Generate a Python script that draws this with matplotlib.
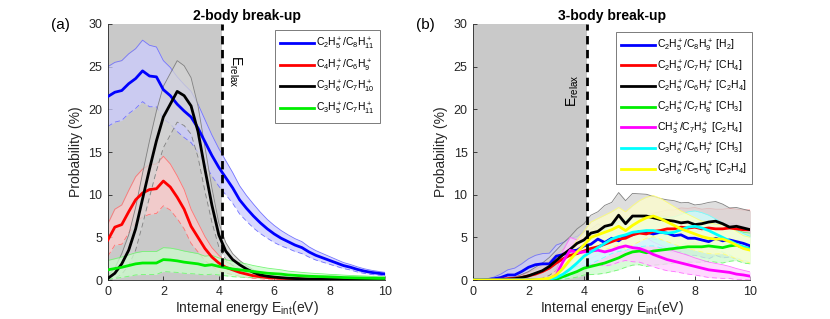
import numpy as np
import matplotlib
matplotlib.use("Agg")
import matplotlib.pyplot as plt
from matplotlib.colors import to_rgb

plt.rcParams['font.family'] = ['Liberation Sans', 'DejaVu Sans']
plt.rcParams['mathtext.fontset'] = 'custom'
plt.rcParams['mathtext.rm'] = 'Liberation Sans'
plt.rcParams['mathtext.it'] = 'Liberation Sans:italic'
plt.rcParams['mathtext.bf'] = 'Liberation Sans:bold'

# energy grid (eV)
energy = np.arange(0, 10.01, 0.25)
e_relax = 4.1

# ---- 2-body break-up ----
two_labels = [r'C$_2$H$_5^+$/C$_8$H$_{11}^+$', r'C$_4$H$_7^+$/C$_6$H$_9^+$',
              r'C$_3$H$_6^+$/C$_7$H$_{10}^+$', r'C$_3$H$_5^+$/C$_7$H$_{11}^+$']
two_colors = ['#0000ff', '#ff0000', '#000000', '#00ee00']

blue2 = [21.5, 22.0, 22.2, 23.0, 23.6, 24.5, 23.9, 23.8, 22.3, 21.6, 20.6, 19.8, 19.1, 17.8,
         16.2, 14.6, 13.2, 12.0, 10.8, 9.4, 8.4, 7.5, 6.7, 6.0, 5.4, 4.9, 4.5, 4.1, 3.8, 3.3,
         2.9, 2.6, 2.3, 2.0, 1.7, 1.5, 1.25, 1.05, 0.9, 0.8, 0.7]
red2 = [4.7, 6.2, 6.5, 8.0, 9.4, 10.2, 10.6, 10.7, 11.6, 10.9, 9.7, 8.3, 6.3, 5.0, 3.7, 2.7,
        2.0, 1.5, 1.2, 0.9, 0.7, 0.5, 0.4, 0.3, 0.25, 0.2, 0.18, 0.15, 0.12, 0.1, 0.1, 0.09,
        0.08, 0.07, 0.07, 0.06, 0.06, 0.05, 0.05, 0.05, 0.05]
black2 = [0.2, 0.8, 1.9, 3.5, 6.0, 9.5, 13.0, 16.3, 19.1, 20.6, 22.1, 21.6, 20.4, 17.4, 13.0,
          8.8, 5.3, 3.4, 2.4, 1.8, 1.3, 0.9, 0.6, 0.45, 0.35, 0.28, 0.22, 0.18, 0.15, 0.12,
          0.1, 0.1, 0.08, 0.07, 0.06, 0.05, 0.05, 0.04, 0.04, 0.03, 0.03]
green2 = [1.2, 1.35, 1.5, 1.7, 1.9, 2.0, 2.0, 2.0, 2.4, 2.35, 2.25, 2.1, 2.0, 1.9, 1.7, 1.8,
          1.6, 1.45, 1.3, 1.2, 1.1, 1.0, 0.9, 0.8, 0.75, 0.7, 0.6, 0.55, 0.5, 0.45, 0.42, 0.4,
          0.37, 0.34, 0.3, 0.28, 0.26, 0.24, 0.22, 0.2, 0.2]

blue2_err = [3.5, 3.5, 3.5, 3.5, 3.5, 3.6, 3.6, 3.5, 3.4, 3.3, 3.2, 3.1, 3.0, 2.8, 2.6, 2.4,
             2.2, 2.0, 1.8, 1.65, 1.5, 1.4, 1.25, 1.1, 1.0, 0.9, 0.8, 0.75, 0.7, 0.6, 0.55,
             0.5, 0.45, 0.4, 0.35, 0.32, 0.3, 0.27, 0.25, 0.22, 0.2]
red2_err = [1.9, 2.1, 2.3, 2.5, 2.7, 2.8, 2.9, 2.9, 2.9, 2.7, 2.5, 2.3, 2.0, 1.7, 1.4, 1.1,
            0.9, 0.7, 0.55, 0.45, 0.4, 0.3, 0.25, 0.2, 0.15, 0.12, 0.1, 0.1, 0.1, 0.08, 0.08,
            0.07, 0.06, 0.06, 0.05, 0.05, 0.05, 0.04, 0.04, 0.04, 0.04]
black2_err = [0.3, 0.6, 1.2, 1.8, 2.5, 3.0, 3.3, 3.5, 3.6, 3.6, 3.6, 3.5, 3.3, 3.0, 2.6,
              2.0, 1.4, 1.0, 0.7, 0.5, 0.4, 0.3, 0.2, 0.15, 0.12, 0.1, 0.1, 0.08, 0.07, 0.06,
              0.05, 0.05, 0.04, 0.04, 0.03, 0.03, 0.03, 0.02, 0.02, 0.02, 0.02]
green2_err = [1.1, 1.15, 1.2, 1.25, 1.3, 1.35, 1.35, 1.35, 1.4, 1.4, 1.35, 1.3, 1.25, 1.2,
              1.1, 1.1, 1.0, 0.95, 0.9, 0.85, 0.8, 0.7, 0.65, 0.6, 0.55, 0.5, 0.45, 0.42,
              0.4, 0.38, 0.35, 0.33, 0.3, 0.3, 0.28, 0.26, 0.25, 0.24, 0.22, 0.2, 0.2]

# ---- 3-body break-up ----
three_labels = [r'C$_2$H$_5^+$/C$_8$H$_9^+$ [H$_2$]', r'C$_2$H$_5^+$/C$_7$H$_7^+$ [CH$_4$]',
                r'C$_2$H$_5^+$/C$_6$H$_7^+$ [C$_2$H$_4$]', r'C$_2$H$_5^+$/C$_7$H$_8^+$ [CH$_3$]',
                r'CH$_3^+$/C$_7$H$_9^+$ [C$_2$H$_4$]', r'C$_3$H$_6^+$/C$_6$H$_7^+$ [CH$_3$]',
                r'C$_3$H$_6^+$/C$_5$H$_6^+$ [C$_2$H$_4$]']
three_colors = ['#0000ff', '#ff0000', '#000000', '#00ee00', '#ff00ff', '#00ffff', '#ffff00']

blue3 = [0, 0, 0.05, 0.15, 0.3, 0.6, 0.6, 1.0, 1.5, 1.8, 1.9, 1.9, 2.8, 3.0, 3.4, 3.5, 4.0,
         4.2, 4.8, 4.4, 4.9, 4.6, 5.2, 5.3, 5.7, 5.6, 5.4, 5.6, 5.5, 5.2, 5.3, 4.9, 4.9, 4.7,
         4.5, 4.9, 4.6, 4.7, 4.5, 4.3, 4.0]
red3 = [0, 0, 0, 0.05, 0.1, 0.15, 0.2, 0.3, 0.5, 0.7, 1.0, 1.4, 2.0, 2.5, 2.9, 3.1, 3.4,
        3.7, 3.9, 4.2, 4.5, 4.8, 4.9, 5.3, 5.5, 5.4, 5.7, 5.8, 6.0, 6.0, 6.2, 6.1, 6.2, 6.0,
        6.1, 6.0, 6.0, 6.1, 6.0, 5.9, 5.9]
black3 = [0, 0, 0, 0, 0.05, 0.1, 0.15, 0.3, 0.5, 0.8, 1.1, 1.6, 2.3, 3.0, 3.6, 4.3, 4.7,
          5.5, 5.7, 6.3, 6.5, 7.6, 6.6, 7.5, 7.5, 7.5, 7.3, 7.1, 7.0, 6.9, 6.7, 6.8, 6.5, 6.6,
          6.8, 6.9, 6.6, 6.2, 6.3, 6.1, 5.9]
green3 = [0, 0, 0, 0, 0, 0, 0, 0, 0, 0, 0, 0.05, 0.1, 0.4, 0.7, 1.0, 1.4, 1.6, 1.8, 2.0,
          2.3, 2.6, 3.0, 3.3, 3.4, 3.2, 3.4, 3.5, 3.6, 3.7, 3.8, 3.9, 3.9, 3.9, 4.0, 3.9,
          3.8, 4.0, 4.1, 3.8, 3.7]
magenta3 = [0, 0, 0, 0, 0, 0, 0, 0, 0, 0, 0, 0.1, 0.6, 2.2, 3.5, 3.2, 3.3, 3.4, 3.5, 3.3,
            3.5, 3.8, 4.0, 3.8, 3.7, 3.4, 3.0, 2.7, 2.4, 2.2, 2.0, 1.8, 1.6, 1.4, 1.2, 1.1,
            1.0, 0.9, 0.7, 0.6, 0.45]
cyan3 = [0, 0, 0, 0, 0, 0, 0, 0, 0, 0, 0, 0.1, 0.3, 0.7, 1.3, 2.0, 2.8, 3.3, 3.8, 4.3, 4.8,
         5.1, 5.3, 5.6, 5.7, 5.8, 5.8, 5.6, 5.5, 5.6, 5.9, 6.2, 6.3, 6.1, 5.8, 5.4, 5.0,
         4.6, 4.2, 3.9, 3.6]
yellow3 = [0, 0, 0, 0, 0, 0, 0, 0, 0, 0.05, 0.1, 0.2, 0.6, 1.4, 2.4, 3.3, 4.1, 5.0, 5.3,
           5.6, 5.9, 6.3, 5.8, 6.4, 6.9, 7.3, 7.5, 7.2, 6.8, 6.4, 6.0, 5.7, 5.4, 5.1, 4.9,
           4.8, 4.8, 4.5, 4.1, 3.7, 3.5]

blue3_err = [0, 0, 0.1, 0.2, 0.4, 0.6, 0.8, 0.9, 1.0, 1.1, 1.2, 1.25, 1.3, 1.4, 1.5, 1.6,
             1.7, 1.75, 1.8, 1.8, 1.8, 1.9, 1.9, 2.0, 2.0, 2.0, 2.0, 2.0, 2.0, 2.0, 2.0, 2.0,
             2.0, 2.0, 2.0, 2.0, 2.0, 2.0, 2.0, 2.0, 2.0]
red3_err = [0, 0, 0, 0.05, 0.05, 0.1, 0.15, 0.25, 0.4, 0.55, 0.7, 0.85, 1.0, 1.1, 1.2, 1.3,
            1.4, 1.5, 1.6, 1.7, 1.8, 1.9, 2.0, 2.05, 2.1, 2.1, 2.15, 2.2, 2.2, 2.2, 2.25,
            2.3, 2.3, 2.3, 2.3, 2.3, 2.3, 2.3, 2.3, 2.3, 2.3]
black3_err = [0, 0, 0, 0, 0.05, 0.1, 0.2, 0.35, 0.5, 0.7, 0.9, 1.05, 1.2, 1.35, 1.5, 1.7,
              1.9, 2.1, 2.3, 2.45, 2.6, 2.65, 2.7, 2.65, 2.6, 2.55, 2.5, 2.45, 2.4, 2.4,
              2.35, 2.3, 2.3, 2.3, 2.3, 2.3, 2.3, 2.25, 2.2, 2.2, 2.2]
green3_err = [0, 0, 0, 0, 0, 0, 0, 0, 0, 0, 0, 0.05, 0.1, 0.3, 0.5, 0.65, 0.8, 0.95, 1.1,
              1.2, 1.3, 1.4, 1.5, 1.55, 1.6, 1.6, 1.65, 1.7, 1.7, 1.7, 1.75, 1.8, 1.8, 1.8,
              1.8, 1.8, 1.8, 1.8, 1.8, 1.8, 1.8]
magenta3_err = [0, 0, 0, 0, 0, 0, 0, 0, 0, 0, 0, 0.1, 0.5, 1.3, 1.5, 1.5, 1.6, 1.6, 1.65,
                1.65, 1.7, 1.7, 1.7, 1.65, 1.6, 1.55, 1.45, 1.4, 1.3, 1.2, 1.15, 1.1, 1.0,
                0.95, 0.9, 0.85, 0.8, 0.7, 0.65, 0.55, 0.5]
cyan3_err = [0, 0, 0, 0, 0, 0, 0, 0, 0, 0, 0, 0.1, 0.25, 0.5, 0.8, 1.0, 1.3, 1.4, 1.5, 1.6,
             1.7, 1.75, 1.8, 1.8, 1.8, 1.8, 1.8, 1.8, 1.8, 1.8, 1.8, 1.8, 1.8, 1.8, 1.8,
             1.75, 1.7, 1.65, 1.6, 1.55, 1.5]
yellow3_err = [0, 0, 0, 0, 0, 0, 0, 0, 0, 0.05, 0.1, 0.15, 0.4, 0.8, 1.1, 1.4, 1.6, 1.8,
               1.9, 2.0, 2.1, 2.2, 2.2, 2.3, 2.4, 2.4, 2.4, 2.4, 2.3, 2.2, 2.1, 2.0, 1.9,
               1.8, 1.8, 1.75, 1.7, 1.7, 1.6, 1.5, 1.5]

two_series = [(blue2, blue2_err), (red2, red2_err), (black2, black2_err), (green2, green2_err)]
three_series = [(blue3, blue3_err), (red3, red3_err), (black3, black3_err), (green3, green3_err),
                (magenta3, magenta3_err), (cyan3, cyan3_err), (yellow3, yellow3_err)]


def light(color, f=0.8):
    r, g, b = to_rgb(color)
    return (r + (1 - r) * f, g + (1 - g) * f, b + (1 - b) * f)


def band(ax, y, err, color):
    y = np.array(y)
    err = np.array(err)
    lo = np.clip(y - err, 0, None)
    hi = y + err
    if color == '#000000':
        fc, ec = '#d4d4d4', '#808080'
    else:
        fc, ec = light(color, 0.8), light(color, 0.45)
    ax.fill_between(energy, lo, hi, color=fc, alpha=0.75, lw=0, zorder=2)
    ax.plot(energy, hi, color=ec, lw=0.6, zorder=2)
    ax.plot(energy, lo, color=ec, lw=0.6, ls='--', dashes=(6, 4), zorder=2)


def style_axes(ax):
    ax.set_xlim(0, 10)
    ax.set_ylim(0, 30)
    ax.set_xticks([0, 2, 4, 6, 8, 10])
    ax.set_yticks([0, 5, 10, 15, 20, 25, 30])
    ax.axvspan(0, e_relax, color='#c9c9c9', lw=0, zorder=0)
    ax.axvline(e_relax, color='black', lw=2, ls='--', dashes=(3, 2), zorder=5)
    for s in ['top', 'right']:
        ax.spines[s].set_visible(False)
    for s in ['left', 'bottom']:
        ax.spines[s].set_color('#262626')
        ax.spines[s].set_linewidth(0.6)
    ax.tick_params(direction='in', length=3, width=0.6, colors='#262626', labelsize=9,
                   pad=4)
    ax.set_ylabel('Probability (%)', fontsize=10, color='#262626', labelpad=4)
    ax.set_xlabel(r'Internal energy E$_{\rm int}$(eV)', fontsize=10, color='#262626',
                  labelpad=1)


fig = plt.figure(figsize=(8.3, 3.19), dpi=100)
ax1 = fig.add_axes([0.130, 0.122, 0.334, 0.803])
ax2 = fig.add_axes([0.570, 0.122, 0.334, 0.803])

legend_corner = {ax1: (0.982, 0.975), ax2: (1.007, 0.969)}
legend_spacing = {ax1: 0.5, ax2: 0.42}

for ax, series, labels, colors in [(ax1, two_series, two_labels, two_colors),
                                   (ax2, three_series, three_labels, three_colors)]:
    style_axes(ax)
    for (y, err), c in zip(series, colors):
        band(ax, y, err, c)
    handles = []
    for (y, err), c, lab in zip(series, colors, labels):
        h, = ax.plot(energy, y, color=c, lw=2, label=lab, zorder=4)
        handles.append(h)
    leg = ax.legend(handles=handles, loc='upper right', bbox_to_anchor=legend_corner[ax],
                    fontsize=7.5, handlelength=3.2, handletextpad=0.2,
                    labelspacing=legend_spacing[ax], borderpad=0.55, fancybox=False,
                    framealpha=1, edgecolor='#666666', borderaxespad=0)
    leg.get_frame().set_linewidth(0.6)
    leg.set_zorder(10)

ax1.text(4.3, 26.4, r'E$_{\rm relax}$', rotation=-90, fontsize=10, ha='left', va='top')
ax2.text(3.88, 20.3, r'E$_{\rm relax}$', rotation=90, fontsize=10, ha='right', va='bottom')

ax1.set_title('2-body break-up', fontsize=10, fontweight='bold', pad=3)
ax2.set_title('3-body break-up', fontsize=10, fontweight='bold', pad=3)
fig.text(60 / 830, 1 - 25 / 319, '(a)', fontsize=11, ha='center', va='center')
fig.text(425 / 830, 1 - 25 / 319, '(b)', fontsize=11, ha='center', va='center')

fig.savefig('out.png', dpi=100)
